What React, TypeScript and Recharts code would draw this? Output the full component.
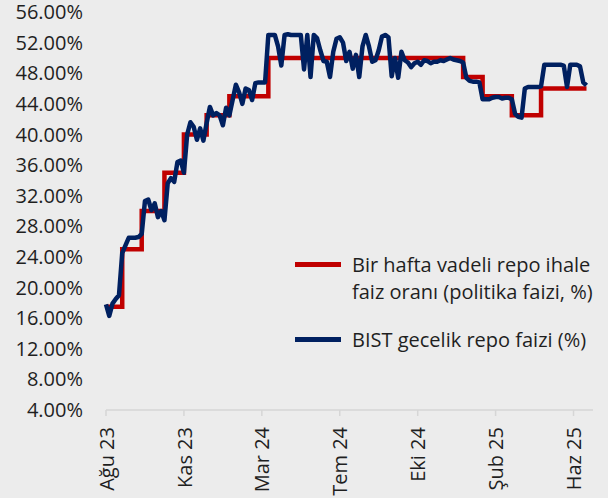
import React from 'react';
import { LineChart, Line, XAxis, YAxis } from 'recharts';

// Index = roughly every 3-4 business days from early Aug 2023 to late Jun 2025
const policyRate: number[] = [
  17.5, 17.5, 17.5, 17.5, 17.5,
  25, 25, 25, 25, 25, 25,
  30, 30, 30, 30, 30, 30, 30,
  35, 35, 35, 35, 35, 35,
  40, 40, 40, 40, 40, 40, 40,
  42.5, 42.5, 42.5, 42.5, 42.5, 42.5, 42.5,
  45, 45, 45, 45, 45, 45, 45, 45, 45, 45, 45, 45,
  50, 50, 50, 50, 50, 50, 50, 50, 50, 50,
  50, 50, 50, 50, 50, 50, 50, 50, 50, 50,
  50, 50, 50, 50, 50, 50, 50, 50, 50, 50,
  50, 50, 50, 50, 50, 50, 50, 50, 50, 50,
  50, 50, 50, 50, 50, 50, 50, 50, 50, 50,
  50, 50, 50, 50, 50, 50, 50, 50, 50, 50,
  47.5, 47.5, 47.5, 47.5, 47.5, 47.5,
  45, 45, 45, 45, 45, 45, 45, 45, 45,
  42.5, 42.5, 42.5, 42.5, 42.5, 42.5, 42.5, 42.5, 42.5,
  46, 46, 46, 46, 46, 46, 46, 46, 46, 46, 46, 46, 46, 46, 46,
];

const bistRepo: number[] = [
  17.8, 16.3, 17.9, 18.5, 19.0, 24.5, 25.5, 26.5, 26.5, 26.5,
  26.6, 27.0, 31.3, 31.5, 30.1, 31.0, 29.2, 30.0, 28.8, 33.6,
  34.3, 33.8, 36.4, 36.6, 35.0, 40.0, 41.6, 41.0, 39.3, 40.8,
  39.2, 41.5, 43.6, 42.5, 42.8, 42.5, 41.2, 43.5, 42.5, 44.5,
  46.5, 45.5, 44.0, 46.0, 45.8, 44.5, 46.7, 46.8, 46.8, 46.8,
  53.0, 53.0, 53.0, 51.5, 49.0, 53.0, 53.1, 53.0, 53.0, 53.0,
  53.0, 48.5, 53.0, 47.5, 53.0, 52.6, 51.0, 49.6, 49.5, 47.5,
  50.8, 52.5, 52.7, 52.0, 49.6, 50.8, 48.6, 50.4, 47.5, 51.5,
  53.0, 51.5, 49.5, 49.7, 51.0, 52.8, 53.0, 52.7, 47.6, 50.0,
  47.4, 50.8, 49.7, 49.4, 48.8, 49.3, 49.5, 49.1, 49.7, 49.6,
  49.3, 49.5, 49.5, 49.7, 49.6, 49.8, 50.0, 49.8, 49.7, 49.6,
  49.4, 47.4, 47.0, 46.9, 46.9, 46.8, 44.6, 44.6, 44.6, 44.8,
  44.9, 44.9, 44.7, 44.8, 44.8, 44.6, 42.7, 42.3, 42.2, 46.0,
  46.2, 46.2, 46.2, 46.2, 46.3, 49.1, 49.1, 49.1, 49.1, 49.1,
  49.1, 49.0, 46.2, 49.1, 49.1, 49.1, 48.9, 46.8, 46.4,
];

const tickIndex: number[] = [0, 24, 48, 72, 96, 120, 144];
const tickLabels: string[] = ['Ağu 23', 'Kas 23', 'Mar 24', 'Tem 24', 'Eki 24', 'Şub 25', 'Haz 25'];
const yTicks: number[] = [4, 8, 12, 16, 20, 24, 28, 32, 36, 40, 44, 48, 52, 56];

const seriesNames: string[][] = [
  ['Bir hafta vadeli repo ihale', 'faiz oranı (politika faizi, %)'],
  ['BIST gecelik repo faizi (%)'],
];
const seriesColors: string[] = ['#c00000', '#002060'];

const data = bistRepo.map((v, i) => ({ i, policy: policyRate[i], bist: v }));

const FONT = '"Open Sans", "DejaVu Sans", sans-serif';
const TEXT = '#1f1f1f';

const XTick = (props: any) => {
  const { x, y, payload } = props;
  const idx = tickIndex.indexOf(payload.value);
  const label = idx >= 0 ? tickLabels[idx] : '';
  return (
    <g transform={`translate(${x},${y})`}>
      <text
        x={-9}
        y={0}
        dy="0.38em"
        textAnchor="end"
        transform="rotate(-90)"
        fontFamily={FONT}
        fontSize={20}
        fill={TEXT}
      >
        {label}
      </text>
    </g>
  );
};

export default function App() {
  return (
    <div
      style={{
        position: 'absolute',
        left: 0,
        top: 0,
        width: 608,
        height: 498,
        background: '#ececec',
        overflow: 'hidden',
      }}
    >
      <LineChart
        width={608}
        height={498}
        data={data}
        margin={{ top: 12, right: 15, bottom: 0, left: 0 }}
      >
        <XAxis
          dataKey="i"
          type="number"
          domain={[0, 150]}
          ticks={tickIndex}
          interval={0}
          tick={<XTick />}
          axisLine={{ stroke: '#d6d6d6', strokeWidth: 1.5 }}
          tickLine={{ stroke: '#d6d6d6', strokeWidth: 1.5 }}
          tickSize={6}
          height={88}
        />
        <YAxis
          type="number"
          domain={[4, 56]}
          ticks={yTicks}
          interval={0}
          width={106}
          axisLine={false}
          tickLine={false}
          tickSize={0}
          tickMargin={23}
          tickFormatter={(v: number) => v.toFixed(2) + '%'}
          tick={{ fontFamily: FONT, fontSize: 20, fill: TEXT }}
        />
        <Line
          type="stepAfter"
          dataKey="policy"
          stroke={seriesColors[0]}
          strokeWidth={4.5}
          dot={false}
          isAnimationActive={false}
        />
        <Line
          type="linear"
          dataKey="bist"
          stroke={seriesColors[1]}
          strokeWidth={4.5}
          strokeLinejoin="round"
          dot={false}
          isAnimationActive={false}
        />
      </LineChart>
      <div
        style={{
          position: 'absolute',
          left: 295,
          top: 251,
          fontFamily: FONT,
          fontSize: 20,
          color: TEXT,
          lineHeight: '27px',
          whiteSpace: 'nowrap',
        }}
      >
        {seriesNames.map((lines, k) => (
          <div key={k} style={{ display: 'flex', alignItems: 'flex-start', marginBottom: k === 0 ? 21 : 0 }}>
            <div
              style={{
                width: 46,
                height: 4.5,
                background: seriesColors[k],
                marginTop: 11.25,
                flexShrink: 0,
              }}
            />
            <div style={{ marginLeft: 11 }}>
              {lines.map((t, j) => (
                <div key={j}>{t}</div>
              ))}
            </div>
          </div>
        ))}
      </div>
    </div>
  );
}
